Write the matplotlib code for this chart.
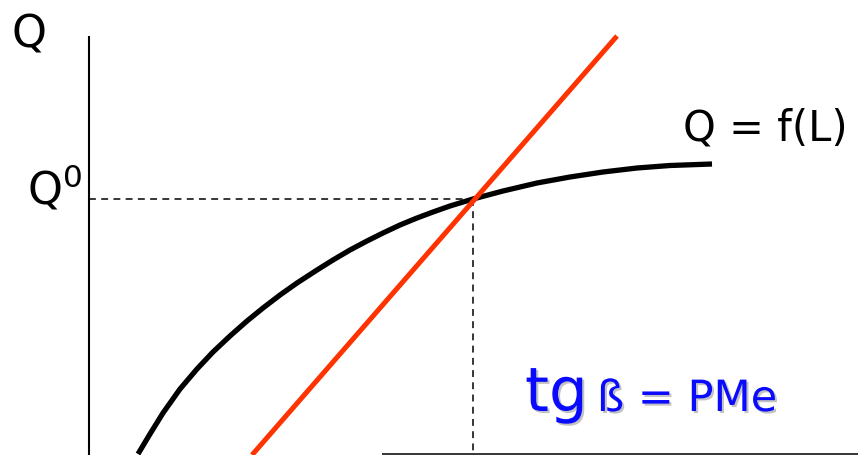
import matplotlib
matplotlib.use("Agg")
import matplotlib.pyplot as plt
import matplotlib.patheffects as pe

# production function Q = f(L)
L_curve = [49, 61, 74, 91, 108, 124, 141, 158, 174, 191, 208, 228, 244, 261,
           278, 294, 311, 328, 344, 361, 384, 414, 448, 481, 514, 548, 581, 623]
Q_curve = [1, 21, 42, 66, 86, 103, 119, 134, 147, 160, 172, 185, 195, 205,
           214, 222, 230, 237, 243, 249, 256, 264, 272, 278, 283, 287, 289.5, 291]

# ray whose slope is the average product (tg beta)
L_ray = [163, 528]
Q_ray = [0, 419]

# chosen point
L0, Q0 = 384, 256

fig = plt.figure(figsize=(8.58, 4.56), dpi=100)
ax = fig.add_axes([0, 0, 1, 1])
ax.set_xlim(-89, 769)
ax.set_ylim(0, 456)
ax.axis("off")

# axes of the diagram
ax.plot([0, 0], [0, 419], color="black", lw=1.5, solid_capstyle="butt")
ax.plot([293, 769], [1.5, 1.5], color="black", lw=1.1, solid_capstyle="butt")

# guide lines to Q0 and L0
ax.plot([0, L0], [Q0, Q0], color="black", lw=1.1, dashes=(4.5, 3.5))
ax.plot([L0, L0], [Q0, 4], color="black", lw=1.1, dashes=(4.5, 3.5))

ax.plot(L_curve, Q_curve, color="black", lw=3.8, solid_joinstyle="round",
        solid_capstyle="butt")
ax.plot(L_ray, Q_ray, color="#ff3300", lw=3.6, solid_capstyle="butt")

ax.text(-77, 409, "Q", fontsize=32, ha="left", va="baseline")
ax.text(-62, 251, "Q$^0$", fontsize=32, ha="left", va="baseline")
ax.text(594, 316, "Q = f(L)", fontsize=30, ha="left", va="baseline")

shadow = [pe.SimplePatchShadow(offset=(1.5, -1.5), shadow_rgbFace="#888888", alpha=0.5),
          pe.Normal()]
ax.text(436, 44, "tg", fontsize=44, color="#0a0aff", ha="left", va="baseline",
        path_effects=shadow)
ax.text(508, 44, "ß = PMe", fontsize=31, color="#0a0aff", ha="left", va="baseline",
        path_effects=shadow)

fig.savefig("out.png", dpi=100)
